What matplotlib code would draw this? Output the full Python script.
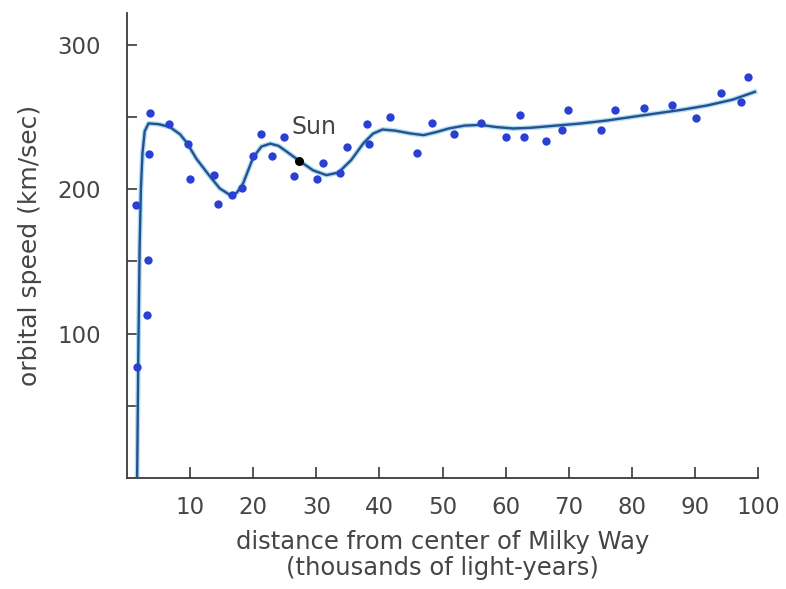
import numpy as np
import matplotlib.pyplot as plt

# observed stars (thousands of light-years, km/sec)
star_x = [1.5, 1.6, 3.1, 3.3, 3.5, 3.6, 6.7, 9.7, 10.0, 13.8, 14.4, 16.7, 18.2,
          20.0, 21.2, 23.0, 24.8, 26.5, 30.1, 31.1, 33.8, 34.8, 38.4, 38.1,
          41.7, 45.9, 48.3, 51.8, 56.1, 60.1, 62.2, 62.9, 66.4, 68.9, 69.9,
          75.1, 77.4, 81.9, 86.3, 90.2, 94.2, 97.3, 98.4]
star_y = [189, 77, 113, 151, 224, 253, 245, 231, 207, 210, 190, 196, 201,
          223, 238, 223, 236, 209, 207, 218, 211, 229, 231, 245,
          250, 225, 246, 238, 246, 236, 251, 236, 233, 241, 255,
          241, 255, 256.5, 258.5, 249.5, 266.5, 260.5, 278]

sun_x, sun_y = 27.3, 219.6

# rotation curve
curve_x = [1.6, 1.8, 2.0, 2.2, 2.45, 2.8, 3.4, 5.0, 6.8, 8.4, 9.5, 11.0, 13.2,
           14.7, 16.3, 17.4, 18.4, 20.0, 21.3, 22.7, 24.0, 25.3, 27.3, 29.5,
           31.6, 33.5, 35.5, 37.5, 39.0, 40.5, 42.5, 45.0, 47.0, 49.0, 51.0,
           53.5, 56.0, 58.5, 61.2, 64.0, 68.0, 72.0, 76.0, 80.0, 84.0, 88.0,
           92.0, 96.0, 99.5]
curve_y = [0, 90, 160, 200, 225, 240, 245.5, 245, 243, 238, 232, 221, 208.5,
           200.5, 196, 197.5, 204, 222, 229.5, 231.5, 230, 226, 219.6, 213,
           209.7, 211.5, 220, 232, 238.5, 241.3, 240.5, 238.5, 237.4, 239.5, 242,
           244, 244.5, 243, 242, 242.5, 244, 245.5, 247.5, 250, 252.5, 255,
           258, 262, 267.4]

x_ticks = [10, 20, 30, 40, 50, 60, 70, 80, 90, 100]
y_ticks = [50, 100, 150, 200, 250, 300]
y_labels = ["", "100", "", "200", "", "300"]

txt = "#454545"
axc = "#3a3a3a"

fig = plt.figure(figsize=(7.86, 5.89), dpi=100)
ax = fig.add_axes([0.1616, 0.1885, 0.8028, 0.7895])

ax.plot(curve_x, curve_y, color="#6cc3ee", lw=3.6, alpha=0.55, zorder=2)
ax.plot(curve_x, curve_y, color="#27508c", lw=1.7, zorder=3)
ax.plot(star_x, star_y, "o", color="#2a40d2", ms=6, mec="none", zorder=4)
ax.plot([sun_x], [sun_y], "o", color="black", ms=6.5, mec="none", zorder=5)
ax.text(26.0, 243, "Sun", fontsize=17, color=txt, va="center", ha="left")

ax.set_xlim(0, 100)
ax.set_ylim(0, 322)
ax.spines["top"].set_visible(False)
ax.spines["right"].set_visible(False)
for s in ["left", "bottom"]:
    ax.spines[s].set_color(axc)
    ax.spines[s].set_linewidth(1.3)

ax.set_xticks(x_ticks)
ax.set_yticks(y_ticks)
ax.set_yticklabels(y_labels)
ax.tick_params(axis="x", direction="in", length=8, width=1.2, color=axc,
               labelsize=16.5, labelcolor=txt, pad=13)
ax.tick_params(axis="y", direction="in", length=7, width=1.2, color=axc,
               labelsize=16.5, labelcolor=txt, pad=19)

ax.set_xlabel("distance from center of Milky Way\n(thousands of light-years)",
              fontsize=17.5, color=txt, labelpad=8, linespacing=1.1)
ax.set_ylabel("orbital speed (km/sec)", fontsize=18, color=txt)
ax.yaxis.set_label_coords(-0.135, 0.5)

fig.savefig("out.png", dpi=100)
